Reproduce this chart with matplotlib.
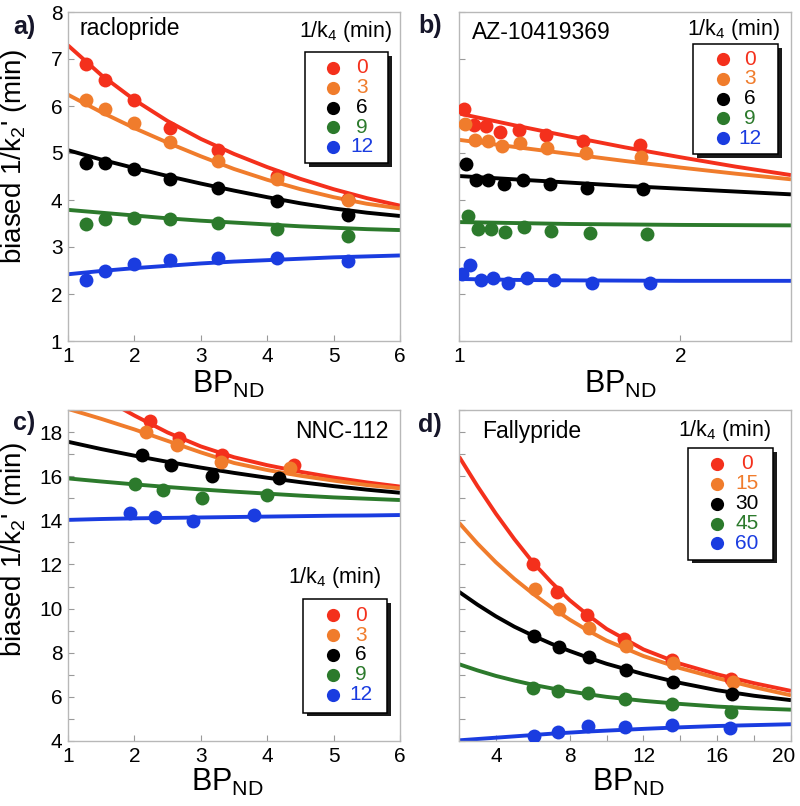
import matplotlib
matplotlib.use('Agg')
import matplotlib.pyplot as plt
from matplotlib.patches import Rectangle
from matplotlib.ticker import MultipleLocator, FixedLocator
from matplotlib.transforms import ScaledTranslation

plt.rcParams['font.family'] = ['Liberation Sans', 'DejaVu Sans']
plt.rcParams['mathtext.fontset'] = 'custom'
plt.rcParams['mathtext.rm'] = 'Liberation Sans'
plt.rcParams['mathtext.it'] = 'Liberation Sans:italic'
plt.rcParams['mathtext.bf'] = 'Liberation Sans:bold'

COLORS = ['#f4301c', '#f07c2c', '#000000', '#2c7a2c', '#1a3ce0']

# ---------------- panel a : raclopride ----------------
a_labels = ['0', '3', '6', '9', '12']
a_pts_x = [1.27, 1.56, 1.99, 2.53, 3.26, 4.15, 5.22]
a_red = [6.90, 6.56, 6.12, 5.54, 5.06, 4.52, 4.03]
a_orange = [6.12, 5.94, 5.64, 5.23, 4.84, 4.44, 4.01]
a_black = [4.79, 4.79, 4.67, 4.45, 4.26, 3.98, 3.69]
a_green = [3.48, 3.60, 3.62, 3.59, 3.52, 3.39, 3.23]
a_blue = [2.30, 2.48, 2.63, 2.72, 2.77, 2.77, 2.70]
a_fit_x = [1.0, 1.5, 2.0, 2.5, 3.0, 3.5, 4.0, 4.5, 5.0, 5.5, 6.0]
a_red_fit = [7.29, 6.66, 6.13, 5.68, 5.30, 4.98, 4.70, 4.45, 4.23, 4.04, 3.88]
a_orange_fit = [6.24, 5.87, 5.53, 5.22, 4.93, 4.66, 4.43, 4.23, 4.06, 3.92, 3.82]
a_black_fit = [5.06, 4.86, 4.68, 4.51, 4.35, 4.20, 4.06, 3.93, 3.82, 3.73, 3.66]
a_green_fit = [3.79, 3.73, 3.67, 3.61, 3.56, 3.52, 3.48, 3.44, 3.41, 3.38, 3.36]
a_blue_fit = [2.42, 2.49, 2.55, 2.60, 2.65, 2.69, 2.72, 2.75, 2.78, 2.80, 2.82]

# ---------------- panel b : AZ-10419369 ----------------
b_labels = ['0', '3', '6', '9', '12']
b_red_x = [1.023, 1.068, 1.121, 1.186, 1.273, 1.391, 1.561, 1.818]
b_red = [5.93, 5.60, 5.57, 5.45, 5.48, 5.38, 5.26, 5.16]
b_orange_x = [1.027, 1.073, 1.129, 1.194, 1.277, 1.397, 1.573, 1.824]
b_orange = [5.62, 5.28, 5.26, 5.14, 5.22, 5.11, 5.01, 4.91]
b_black_x = [1.033, 1.079, 1.133, 1.202, 1.288, 1.409, 1.580, 1.833]
b_black = [4.76, 4.43, 4.43, 4.33, 4.43, 4.35, 4.26, 4.23]
b_green_x = [1.042, 1.088, 1.144, 1.209, 1.295, 1.417, 1.591, 1.848]
b_green = [3.67, 3.39, 3.39, 3.32, 3.43, 3.35, 3.30, 3.28]
b_blue_x = [1.012, 1.048, 1.098, 1.155, 1.220, 1.308, 1.427, 1.603, 1.864]
b_blue = [2.43, 2.61, 2.30, 2.33, 2.23, 2.35, 2.30, 2.23, 2.23]
b_fit_x = [1.0, 1.25, 1.5, 1.75, 2.0, 2.25, 2.5]
b_red_fit = [5.84, 5.59, 5.35, 5.12, 4.91, 4.71, 4.53]
b_orange_fit = [5.28, 5.13, 4.98, 4.83, 4.69, 4.56, 4.44]
b_black_fit = [4.51, 4.44, 4.37, 4.30, 4.24, 4.18, 4.12]
b_green_fit = [3.53, 3.51, 3.49, 3.48, 3.47, 3.465, 3.46]
b_blue_fit = [2.32, 2.30, 2.29, 2.285, 2.28, 2.28, 2.28]

# ---------------- panel c : NNC-112 ----------------
c_labels = ['0', '3', '6', '9', '12']
c_red_x = [2.24, 2.67, 3.32, 4.40]
c_red = [18.48, 17.72, 16.97, 16.51]
c_orange_x = [2.18, 2.64, 3.30, 4.35]
c_orange = [18.02, 17.42, 16.66, 16.36]
c_black_x = [2.11, 2.55, 3.17, 4.18]
c_black = [16.97, 16.51, 16.03, 15.94]
c_green_x = [2.01, 2.43, 3.02, 3.99]
c_green = [15.63, 15.38, 15.03, 15.15]
c_blue_x = [1.93, 2.31, 2.89, 3.80]
c_blue = [14.32, 14.17, 13.97, 14.24]
c_red_fit_x = [1.82, 2.0, 2.5, 3.0, 3.5, 4.0, 4.5, 5.0, 5.5, 6.0]
c_red_fit = [19.05, 18.75, 17.98, 17.35, 16.86, 16.50, 16.20, 15.94, 15.72, 15.53]
c_fit_x = [1.0, 1.5, 2.0, 2.5, 3.0, 3.5, 4.0, 4.5, 5.0, 5.5, 6.0]
c_orange_fit = [19.05, 18.60, 18.12, 17.60, 17.08, 16.60, 16.28, 16.02, 15.80, 15.60, 15.45]
c_black_fit = [17.56, 17.23, 16.93, 16.65, 16.39, 16.15, 15.93, 15.73, 15.55, 15.39, 15.25]
c_green_fit = [15.90, 15.76, 15.63, 15.51, 15.40, 15.30, 15.21, 15.12, 15.04, 14.98, 14.92]
c_blue_fit = [14.02, 14.06, 14.09, 14.11, 14.13, 14.15, 14.17, 14.19, 14.21, 14.22, 14.24]

# ---------------- panel d : Fallypride ----------------
d_labels = ['0', '15', '30', '45', '60']
d_red_x = [6.02, 7.29, 8.92, 10.95, 13.54, 16.75]
d_red = [12.02, 10.76, 9.70, 8.60, 7.69, 6.83]
d_orange_x = [6.11, 7.43, 9.05, 11.06, 13.59, 16.86]
d_orange = [10.87, 9.96, 9.13, 8.30, 7.54, 6.68]
d_black_x = [6.08, 7.43, 9.05, 11.06, 13.59, 16.80]
d_black = [8.75, 8.24, 7.81, 7.24, 6.68, 6.15]
d_green_x = [6.02, 7.38, 9.01, 11.00, 13.54, 16.75]
d_green = [6.42, 6.27, 6.18, 5.92, 5.66, 5.32]
d_blue_x = [6.08, 7.38, 9.01, 11.00, 13.54, 16.71]
d_blue = [4.21, 4.41, 4.67, 4.64, 4.71, 4.59]
d_fit_x = [2, 3, 4, 5, 6, 7, 8, 9, 10, 12, 14, 16, 18, 20]
d_red_fit = [16.89, 15.55, 14.30, 13.15, 12.10, 11.20, 10.38, 9.70, 9.08, 8.15, 7.50, 7.02, 6.62, 6.27]
d_orange_fit = [13.89, 12.95, 12.10, 11.35, 10.68, 10.06, 9.50, 9.00, 8.55, 7.85, 7.30, 6.85, 6.44, 6.07]
d_black_fit = [10.76, 10.18, 9.65, 9.18, 8.78, 8.41, 8.08, 7.78, 7.50, 7.03, 6.63, 6.30, 6.05, 5.85]
d_green_fit = [7.48, 7.20, 6.95, 6.74, 6.55, 6.39, 6.25, 6.12, 6.00, 5.82, 5.68, 5.56, 5.48, 5.42]
d_blue_fit = [4.03, 4.09, 4.15, 4.21, 4.27, 4.33, 4.38, 4.43, 4.47, 4.55, 4.62, 4.68, 4.72, 4.76]

W, H = 800, 806
fig = plt.figure(figsize=(W / 100, H / 100), dpi=100)
fig.patch.set_facecolor('white')


def add_ax(l, t, r, b):
    return fig.add_axes([l / W, 1 - b / H, (r - l) / W, (b - t) / H])


def style(ax):
    for s in ax.spines.values():
        s.set_color('#b8b8b8')
        s.set_linewidth(1.0)
    ax.tick_params(which='both', direction='in', color='#9a9a9a', width=0.8,
                   labelsize=15, pad=4, top=False, right=False)
    ax.tick_params(which='major', length=4)
    ax.tick_params(which='minor', length=4)


def draw_series(ax, pts, fits):
    for (fx, fy), col in zip(fits, COLORS):
        ax.plot(fx, fy, '-', color=col, lw=2.8, solid_capstyle='butt', zorder=2)
    for (px, py), col in zip(pts, COLORS):
        ax.plot(px, py, 'o', color=col, ms=10, mec='none', zorder=3, linestyle='none')


def draw_legend(ax, box, mk_x, txt_x, ys, labels, title_xy):
    x0, y0, x1, y1 = box
    bb = ax.get_position()
    dx = 3.5 / (bb.width * W)
    dy = 3.5 / (bb.height * H)
    ax.add_patch(Rectangle((x0 + dx, y0 - dy), x1 - x0, y1 - y0, transform=ax.transAxes,
                           facecolor='#1a1a1a', edgecolor='none', clip_on=False, zorder=5))
    ax.add_patch(Rectangle((x0, y0), x1 - x0, y1 - y0, transform=ax.transAxes,
                           facecolor='white', edgecolor='black', lw=1.1, clip_on=False, zorder=6))
    for y, lab, col in zip(ys, labels, COLORS):
        ax.plot([mk_x], [y], 'o', color=col, ms=9.5, mec='none', transform=ax.transAxes,
                clip_on=False, zorder=7)
        ax.text(txt_x, y, lab, color=col, ha='center', va='center', fontsize=15,
                transform=ax.transAxes, zorder=7)
    ax.text(title_xy[0], title_xy[1], '1/k$_4$ (min)', ha='right', va='baseline',
            fontsize=15.5, transform=ax.transAxes, zorder=7)


YLABEL = "biased 1/k$_2$' (min)"
XLABEL = 'BP$_{\\mathrm{ND}}$'

# ---- a ----
axA = add_ax(68, 12, 400, 341)
style(axA)
draw_series(axA,
            [(a_pts_x, a_red), (a_pts_x, a_orange), (a_pts_x, a_black), (a_pts_x, a_green), (a_pts_x, a_blue)],
            [(a_fit_x, a_red_fit), (a_fit_x, a_orange_fit), (a_fit_x, a_black_fit),
             (a_fit_x, a_green_fit), (a_fit_x, a_blue_fit)])
axA.set_xlim(1, 6)
axA.set_ylim(1, 8)
axA.xaxis.set_major_locator(MultipleLocator(1))
axA.yaxis.set_major_locator(MultipleLocator(1))
axA.set_ylabel(YLABEL, fontsize=20, va='center')
axA.yaxis.set_label_coords(-0.162, 0.562)
axA.set_xlabel(XLABEL, fontsize=22, va='top')
axA.xaxis.set_label_coords(0.482, -0.085)
axA.text(0.036, 0.930, 'raclopride', fontsize=16.5, transform=axA.transAxes, va='baseline')
draw_legend(axA, (0.714, 0.541, 0.964, 0.878), 0.798, 0.886,
            [0.830, 0.769, 0.709, 0.650, 0.590], a_labels, (0.976, 0.924))

# ---- b ----
axB = add_ax(459, 12, 791, 341)
style(axB)
draw_series(axB,
            [(b_red_x, b_red), (b_orange_x, b_orange), (b_black_x, b_black), (b_green_x, b_green), (b_blue_x, b_blue)],
            [(b_fit_x, b_red_fit), (b_fit_x, b_orange_fit), (b_fit_x, b_black_fit),
             (b_fit_x, b_green_fit), (b_fit_x, b_blue_fit)])
axB.set_xlim(1, 2.5)
axB.set_ylim(1, 8)
axB.xaxis.set_major_locator(FixedLocator([1, 2]))
axB.yaxis.set_major_locator(MultipleLocator(1))
axB.tick_params(labelleft=False)
axB.set_xlabel(XLABEL, fontsize=22, va='top')
axB.xaxis.set_label_coords(0.485, -0.085)
axB.text(0.039, 0.918, 'AZ-10419369', fontsize=16.5, transform=axB.transAxes, va='baseline')
draw_legend(axB, (0.705, 0.567, 0.961, 0.902), 0.794, 0.877,
            [0.857, 0.797, 0.737, 0.677, 0.617], b_labels, (0.967, 0.930))

# ---- c ----
axC = add_ax(68, 410, 400, 741)
style(axC)
draw_series(axC,
            [(c_red_x, c_red), (c_orange_x, c_orange), (c_black_x, c_black), (c_green_x, c_green), (c_blue_x, c_blue)],
            [(c_red_fit_x, c_red_fit), (c_fit_x, c_orange_fit), (c_fit_x, c_black_fit),
             (c_fit_x, c_green_fit), (c_fit_x, c_blue_fit)])
axC.set_xlim(1, 6)
axC.set_ylim(4, 19)
axC.xaxis.set_major_locator(MultipleLocator(1))
axC.yaxis.set_major_locator(MultipleLocator(2))
axC.yaxis.set_minor_locator(MultipleLocator(1))
axC.set_ylabel(YLABEL, fontsize=20, va='center')
axC.yaxis.set_label_coords(-0.162, 0.577)
axC.set_xlabel(XLABEL, fontsize=22, va='top')
axC.xaxis.set_label_coords(0.48, -0.079)
axC.text(0.964, 0.915, 'NNC-112', fontsize=16.5, transform=axC.transAxes, va='baseline', ha='right')
draw_legend(axC, (0.708, 0.085, 0.961, 0.429), 0.798, 0.882,
            [0.380, 0.320, 0.260, 0.200, 0.140], c_labels, (0.945, 0.478))

# ---- d ----
axD = add_ax(459, 410, 791, 741)
style(axD)
draw_series(axD,
            [(d_red_x, d_red), (d_orange_x, d_orange), (d_black_x, d_black), (d_green_x, d_green), (d_blue_x, d_blue)],
            [(d_fit_x, d_red_fit), (d_fit_x, d_orange_fit), (d_fit_x, d_black_fit),
             (d_fit_x, d_green_fit), (d_fit_x, d_blue_fit)])
axD.set_xlim(2, 20)
axD.set_ylim(4, 19)
axD.xaxis.set_major_locator(FixedLocator([4, 8, 12, 16, 20]))
axD.xaxis.set_minor_locator(MultipleLocator(2))
axD.yaxis.set_major_locator(MultipleLocator(2))
axD.yaxis.set_minor_locator(MultipleLocator(1))
axD.tick_params(labelleft=False)
axD.set_xlabel(XLABEL, fontsize=22, va='top')
axD.xaxis.set_label_coords(0.51, -0.079)
axD.text(0.069, 0.915, 'Fallypride', fontsize=16.5, transform=axD.transAxes, va='baseline')
draw_legend(axD, (0.690, 0.547, 0.946, 0.885), 0.776, 0.868,
            [0.837, 0.777, 0.717, 0.657, 0.597], d_labels, (0.942, 0.921))

# keep the last "20" tick label inside the canvas
fig.canvas.draw()
last_lab = axD.xaxis.get_majorticklabels()[-1]
last_lab.set_transform(last_lab.get_transform() + ScaledTranslation(-5 / 72, 0, fig.dpi_scale_trans))

# panel letters
for lab, (x, y) in zip(['a)', 'b)', 'c)', 'd)'], [(13, 34), (418, 33), (13, 430), (418, 432)]):
    fig.text(x / W, 1 - y / H, lab, fontsize=18, fontweight='bold', color='#16162a',
             ha='left', va='baseline')

fig.savefig('out.png', dpi=100, facecolor='white')
